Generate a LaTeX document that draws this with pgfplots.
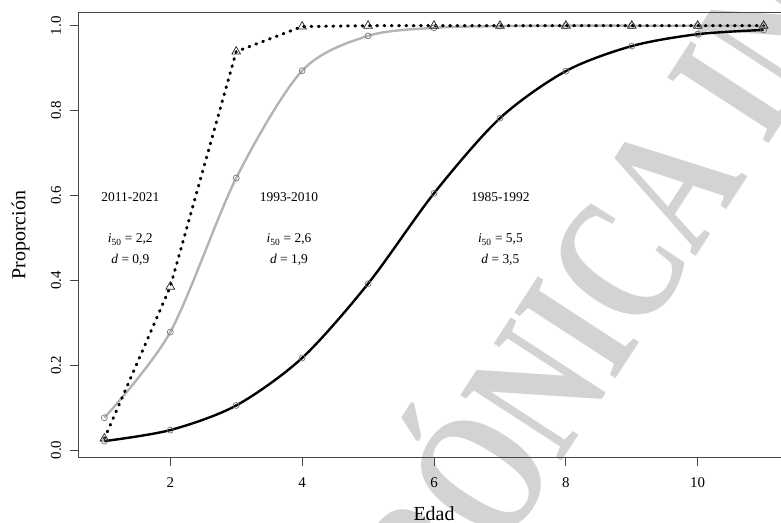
\documentclass[border=0pt]{standalone}
\usepackage{pgfplots}
\pgfplotsset{compat=1.18}
\usepackage{fontspec}
\setmainfont{Liberation Serif}
\definecolor{wm}{RGB}{211,211,211}
\definecolor{lgray}{RGB}{180,180,180}
\definecolor{mgray}{RGB}{120,120,120}
\definecolor{axcol}{RGB}{70,70,70}
\begin{document}
\begin{tikzpicture}
\begin{axis}[
  set layers,
  scale only axis, width=712bp, height=445.4bp,
  xmin=0.6, xmax=11.4, ymin=-0.0181, ymax=1.0316,
  clip=false,
  axis line style={axcol, line width=0.8bp},
  every tick/.style={axcol, line width=0.8bp},
  tick align=outside, major tick length=8bp,
  xtick pos=bottom, ytick pos=left,
  xtick={2,4,6,8,10},
  ytick={0,0.2,0.4,0.6,0.8,1},
  yticklabels={0.0,0.2,0.4,0.6,0.8,1.0},
  /pgf/number format/assume math mode=true,
  ticklabel style={font=\fontsize{15}{17}\selectfont},
  xticklabel style={anchor=center, yshift=-17bp},
  yticklabel style={xshift=-14bp, rotate=90, anchor=center},
  xlabel={Edad},
  ylabel={Proporción},
  xlabel style={at={([yshift=-55.5bp]axis description cs:0.5,0)}, anchor=center, font=\fontsize{20}{24}\selectfont},
  ylabel style={at={([xshift=-57.5bp]axis description cs:0,0.5)}, anchor=center, font=\fontsize{20}{24}\selectfont},
]
\begin{pgfonlayer}{axis background}
\node[rotate=57, xscale=0.73, anchor=base west, text=wm, inner sep=0pt, font=\bfseries\fontsize{185}{185}\selectfont] at (axis cs:7.06,-0.2399) {ÓNICA INTERNA};
\node[rotate=57, xscale=0.73, anchor=base east, text=wm, inner sep=0pt, font=\bfseries\fontsize{185}{185}\selectfont] at (axis cs:7.06,-0.2399) {ELECTR};
\end{pgfonlayer}

% 1985-1992
\addplot[black, line width=2.4bp, smooth, mark=o, mark size=3bp,
  mark options={draw=mgray, line width=0.7bp, solid}] coordinates {
(1,0.021) (2,0.047) (3,0.105) (4,0.217) (5,0.392) (6,0.605) (7,0.782) (8,0.893) (9,0.952) (10,0.980) (11,0.990)};

% 1993-2010
\addplot[lgray, line width=2.4bp, smooth, mark=o, mark size=3bp,
  mark options={draw=mgray, line width=0.7bp, solid}] coordinates {
(1,0.076) (2,0.278) (3,0.641) (4,0.894) (5,0.976) (6,0.995) (7,0.999) (8,1.0) (9,1.0) (10,1.0) (11,1.0)};

% 2011-2021
\addplot[black, line width=3bp, line cap=round, dash pattern=on 0.9bp off 6.4bp, mark=triangle, mark size=5bp,
  mark options={draw=black!85, line width=0.7bp, solid}] coordinates {
(1,0.027) (2,0.385) (3,0.939) (4,0.998) (5,1.0) (6,1.0) (7,1.0) (8,1.0) (9,1.0) (10,1.0) (11,1.0)};

\begin{scope}[every node/.style={anchor=base, inner sep=0pt, font=\fontsize{13.5}{16}\selectfont}]
\node at (axis cs:1.394,0.5865) {2011-2021};
\node at (axis cs:1.394,0.488) {\textit{i}\textsubscript{50} = 2,2};
\node at (axis cs:1.394,0.4388) {\textit{d} = 0,9};
\node at (axis cs:3.80,0.5865) {1993-2010};
\node at (axis cs:3.80,0.488) {\textit{i}\textsubscript{50} = 2,6};
\node at (axis cs:3.80,0.4388) {\textit{d} = 1,9};
\node at (axis cs:7.007,0.5865) {1985-1992};
\node at (axis cs:7.007,0.488) {\textit{i}\textsubscript{50} = 5,5};
\node at (axis cs:7.007,0.4388) {\textit{d} = 3,5};
\end{scope}

\coordinate (bl) at ([xshift=-78bp, yshift=-65.3bp]axis description cs:0,0);
\coordinate (tr) at ([xshift=-9bp, yshift=12.3bp]axis description cs:1,1);
\end{axis}
\pgfresetboundingbox
\useasboundingbox (bl) rectangle (tr);
\end{tikzpicture}
\end{document}
